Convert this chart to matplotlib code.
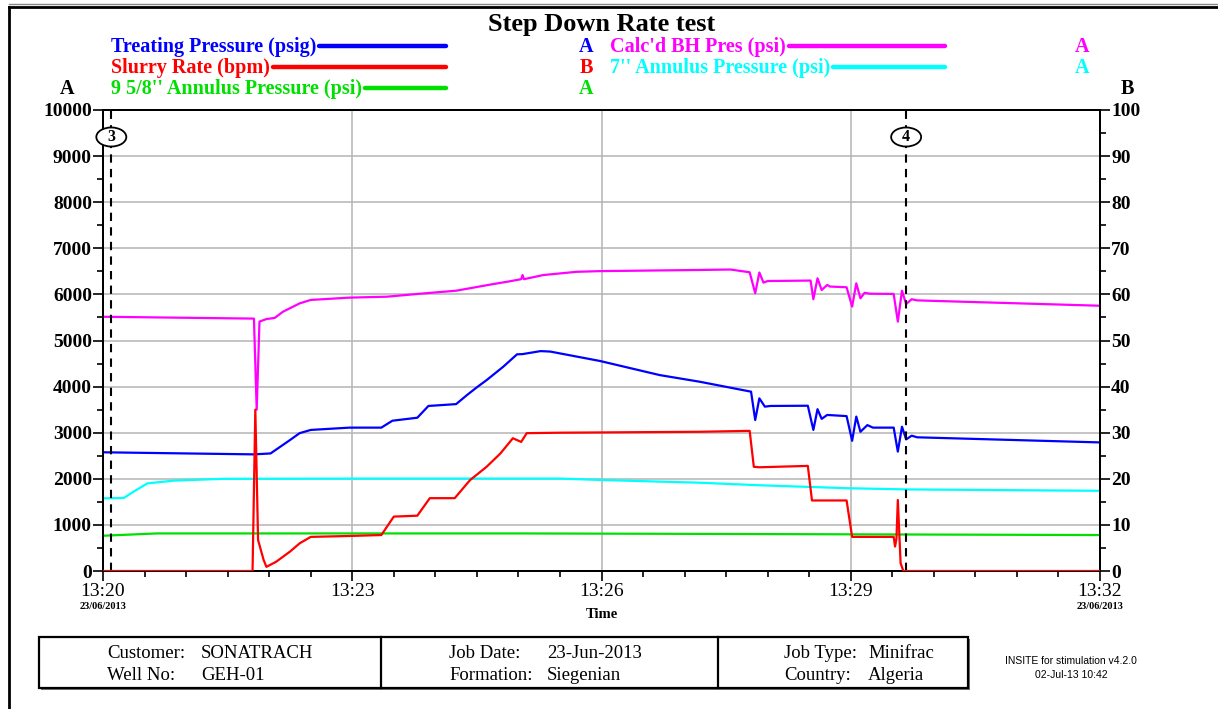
import matplotlib
matplotlib.use("Agg")
import matplotlib.pyplot as plt
import matplotlib.dates as mdates
import matplotlib.ticker as mticker
from matplotlib.lines import Line2D
from matplotlib.patches import Rectangle, Ellipse
import pandas as pd

JOB_DAY = "2013-06-23 "

# treating pressure (psig), axis A
tp_time = ["13:20:00", "13:21:49", "13:22:01", "13:22:15", "13:22:22", "13:22:30", "13:22:58",
           "13:23:21", "13:23:29", "13:23:47", "13:23:55", "13:24:15", "13:24:23", "13:24:30",
           "13:24:37", "13:24:49", "13:24:59", "13:25:03", "13:25:16", "13:25:23", "13:25:59",
           "13:26:42", "13:27:11", "13:27:48", "13:27:51", "13:27:54", "13:27:58", "13:28:02",
           "13:28:29", "13:28:33", "13:28:36", "13:28:39", "13:28:43", "13:28:57", "13:29:01",
           "13:29:04", "13:29:07", "13:29:12", "13:29:16", "13:29:31", "13:29:34", "13:29:37",
           "13:29:40", "13:29:44", "13:29:48", "13:31:59"]
tp_val = [2575, 2530, 2550, 2840, 2990, 3060, 3110,
          3110, 3260, 3325, 3580, 3620, 3820, 3985,
          4140, 4430, 4700, 4705, 4770, 4760, 4555,
          4250, 4105, 3890, 3275, 3745, 3565, 3580,
          3585, 3060, 3510, 3300, 3385, 3360, 2825,
          3350, 3020, 3165, 3110, 3110, 2590, 3130,
          2855, 2935, 2900, 2790]

# calculated bottomhole pressure (psi), axis A
bh_time = ["13:20:00", "13:21:49", "13:21:51", "13:21:53", "13:21:58", "13:22:04", "13:22:10",
           "13:22:22", "13:22:30", "13:22:58", "13:23:25", "13:23:51", "13:24:15", "13:24:42",
           "13:24:52", "13:25:02", "13:25:03", "13:25:04", "13:25:18", "13:25:42", "13:25:59",
           "13:27:11", "13:27:33", "13:27:47", "13:27:51", "13:27:54", "13:27:57", "13:28:00",
           "13:28:31", "13:28:33", "13:28:36", "13:28:39", "13:28:43", "13:28:45", "13:28:57",
           "13:29:01", "13:29:04", "13:29:07", "13:29:10", "13:29:14", "13:29:31", "13:29:34",
           "13:29:37", "13:29:40", "13:29:44", "13:29:48", "13:31:59"]
bh_val = [5515, 5475, 3500, 5410, 5465, 5490, 5625,
          5805, 5880, 5930, 5950, 6020, 6080, 6225,
          6275, 6330, 6420, 6330, 6420, 6490, 6505,
          6530, 6540, 6480, 6025, 6475, 6255, 6290,
          6300, 5895, 6350, 6095, 6205, 6170, 6155,
          5735, 6240, 5915, 6035, 6015, 6010, 5410,
          6080, 5790, 5895, 5870, 5755]

# slurry rate (bpm), axis B
sr_time = ["13:20:00", "13:21:48", "13:21:50", "13:21:52", "13:21:56", "13:21:58", "13:22:05",
           "13:22:15", "13:22:22", "13:22:30", "13:22:58", "13:23:21", "13:23:30", "13:23:47",
           "13:23:56", "13:24:14", "13:24:25", "13:24:37", "13:24:47", "13:24:56", "13:25:02",
           "13:25:06", "13:25:30", "13:27:11", "13:27:47", "13:27:50", "13:27:54", "13:28:29",
           "13:28:32", "13:28:57", "13:29:01", "13:29:31", "13:29:32", "13:29:33", "13:29:34",
           "13:29:36", "13:29:38", "13:32:00"]
sr_val = [0, 0, 35, 6.7, 2.4, 0.9, 2.0,
          4.2, 6.0, 7.4, 7.6, 7.8, 11.8, 12.0,
          15.8, 15.8, 19.7, 22.6, 25.5, 28.8, 28.0,
          29.9, 30.0, 30.2, 30.4, 22.6, 22.5, 22.8,
          15.3, 15.3, 7.4, 7.4, 5.3, 7.0, 15.4,
          1.7, 0, 0]

# 7" annulus pressure (psi), axis A
an7_time = ["13:20:00", "13:20:15", "13:20:22", "13:20:32", "13:20:51", "13:21:27", "13:23:03",
            "13:25:30", "13:25:59", "13:27:11", "13:27:54", "13:28:59", "13:29:40", "13:31:59"]
an7_val = [1575, 1585, 1720, 1900, 1960, 2000, 2005,
           2005, 1975, 1915, 1860, 1795, 1770, 1740]

# 9 5/8" annulus pressure (psi), axis A
an95_time = ["13:20:00", "13:20:39", "13:25:00", "13:27:11", "13:31:59"]
an95_val = [765, 815, 815, 805, 780]

# event markers
event_time = ["13:20:06", "13:29:40"]
event_label = ["3", "4"]

C_TP, C_BH, C_SR, C_A7, C_A95 = "#0000ff", "#ff00ff", "#ff0000", "#00ffff", "#00e000"
SERIF = "Liberation Serif"


def ts(times):
    return pd.to_datetime([JOB_DAY + t for t in times])


fig = plt.figure(figsize=(12.18, 7.09), dpi=100)
W, H = 1218.0, 709.0
renderer = fig.canvas.get_renderer()


def fx(px):
    return px / W


def fy(py):
    return 1 - py / H


# page frame
fig.add_artist(Line2D([fx(9), fx(9)], [0, fy(7)], color="black", lw=2))
fig.add_artist(Line2D([fx(9), 1], [fy(7), fy(7)], color="black", lw=2))
fig.add_artist(Line2D([fx(9), 1], [fy(4), fy(4)], color="#888888", lw=1))

ax = fig.add_axes([fx(103), fy(571), fx(1100) - fx(103), fy(110) - fy(571)])
ax2 = ax.twinx()

ax.plot(ts(an95_time), an95_val, color=C_A95, lw=1.6, zorder=3)
ax.plot(ts(an7_time), an7_val, color=C_A7, lw=1.6, zorder=3)
ax.plot(ts(tp_time), tp_val, color=C_TP, lw=1.6, zorder=4)
ax.plot(ts(bh_time), bh_val, color=C_BH, lw=1.6, zorder=4)
ax2.plot(ts(sr_time), sr_val, color=C_SR, lw=1.6, zorder=5)

t0, t1 = pd.Timestamp(JOB_DAY + "13:20:00"), pd.Timestamp(JOB_DAY + "13:32:00")
ax.set_xlim(t0, t1)
ax.set_ylim(0, 10000)
ax2.set_ylim(0, 100)

ax.xaxis.set_major_locator(mdates.MinuteLocator(byminute=[20, 23, 26, 29, 32]))
ax.xaxis.set_minor_locator(mdates.SecondLocator(bysecond=[0, 30]))
ax.xaxis.set_major_formatter(mdates.DateFormatter("%H:%M"))
ax.yaxis.set_major_locator(mticker.MultipleLocator(1000))
ax.yaxis.set_minor_locator(mticker.MultipleLocator(500))
ax2.yaxis.set_major_locator(mticker.MultipleLocator(10))
ax2.yaxis.set_minor_locator(mticker.MultipleLocator(5))

ax.grid(True, which="major", color="#b4b4b4", lw=1.1, zorder=0)
ax.tick_params(axis="both", which="major", direction="out", length=7, width=1.2)
ax.tick_params(axis="both", which="minor", direction="out", length=4, width=1.2)
ax2.tick_params(axis="y", which="major", direction="out", length=7, width=1.2)
ax2.tick_params(axis="y", which="minor", direction="out", length=4, width=1.2)
for a in (ax, ax2):
    for sp in a.spines.values():
        sp.set_linewidth(1.4)

for lbl in ax.get_yticklabels() + ax2.get_yticklabels():
    lbl.set_fontfamily(SERIF)
    lbl.set_fontweight("bold")
    lbl.set_fontsize(14)
for lbl in ax.get_xticklabels():
    lbl.set_fontfamily(SERIF)
    lbl.set_fontsize(14)
ax.tick_params(axis="y", pad=1)
ax2.tick_params(axis="y", pad=1)
ax.tick_params(axis="x", pad=2)

ax.text(0.5, -0.094, "Time", transform=ax.transAxes, ha="center", va="center",
        family=SERIF, fontweight="bold", fontsize=10.5)
for x_ax in (0.0, 1.0):
    ax.text(x_ax, -0.076, "23/06/2013", transform=ax.transAxes, ha="center", va="center",
            family=SERIF, fontweight="bold", fontsize=7.5)

# event markers: dashed verticals with an oval tag near the top
for t, lab in zip(event_time, event_label):
    tt = pd.Timestamp(JOB_DAY + t)
    ax.axvline(tt, color="black", lw=1.5, ls=(0, (4, 3)), zorder=6)
    xpix = ax.transData.transform((mdates.date2num(tt), 0))[0]
    fig.add_artist(Ellipse((xpix / W, fy(137)), 30 / W, 19 / H, fc="white", ec="black",
                           lw=1.3, zorder=7))
    fig.text(xpix / W, fy(137), lab, ha="center", va="center", family=SERIF,
             fontweight="bold", fontsize=11.5, zorder=8)

# title and legend block
fig.text(fx(602), fy(24), "Step Down Rate test", ha="center", va="center",
         family=SERIF, fontweight="bold", fontsize=19)

LEG_FS = 14.5


def legend_entry(x, y, label, color, line_end, axis_x, axis_name):
    txt = fig.text(fx(x), fy(y), label, ha="left", va="center", color=color, family=SERIF,
                   fontweight="bold", fontsize=LEG_FS)
    x_end = txt.get_window_extent(renderer).x1 + 3
    fig.add_artist(Line2D([x_end / W, fx(line_end)], [fy(y - 1), fy(y - 1)], color=color,
                          lw=3.2, solid_capstyle="round"))
    fig.text(fx(axis_x), fy(y), axis_name, ha="center", va="center", color=color,
             family=SERIF, fontweight="bold", fontsize=LEG_FS)


legend_entry(111, 47, "Treating Pressure (psig)", C_TP, 446, 586, "A")
legend_entry(111, 68, "Slurry Rate (bpm)", C_SR, 446, 586, "B")
legend_entry(111, 89, "9 5/8'' Annulus Pressure (psi)", C_A95, 446, 586, "A")
legend_entry(610, 47, "Calc'd BH Pres (psi)", C_BH, 945, 1082, "A")
legend_entry(610, 68, "7'' Annulus Pressure (psi)", C_A7, 945, 1082, "A")

fig.text(fx(67), fy(89), "A", ha="center", va="center", family=SERIF, fontweight="bold", fontsize=LEG_FS)
fig.text(fx(1127), fy(89), "B", ha="center", va="center", family=SERIF, fontweight="bold", fontsize=LEG_FS)

# job info box
box_x0, box_x1, box_y0, box_y1 = 39, 968, 637, 688
fig.add_artist(Rectangle((fx(box_x0 + 2), fy(box_y1 + 2)), fx(box_x1) - fx(box_x0),
                         fy(box_y0 + 2) - fy(box_y1 + 2), fc="#777777", ec="none"))
fig.add_artist(Rectangle((fx(box_x0), fy(box_y1)), fx(box_x1) - fx(box_x0),
                         fy(box_y0) - fy(box_y1), fc="white", ec="black", lw=1.6))
for xd in (381, 718):
    fig.add_artist(Line2D([fx(xd), fx(xd)], [fy(box_y1), fy(box_y0)], color="black", lw=1.6))

info_cells = [
    (107, 201, [("Customer:", "SONATRACH"), ("Well No:", "GEH-01")]),
    (449, 547, [("Job Date:", "23-Jun-2013"), ("Formation:", "Siegenian")]),
    (784, 868, [("Job Type:", "Minifrac"), ("Country:", "Algeria")]),
]
for lx, vx, pairs in info_cells:
    for (k, v), yy in zip(pairs, (653, 676)):
        fig.text(fx(lx), fy(yy), k, ha="left", va="center", family=SERIF, fontsize=13.5)
        fig.text(fx(vx), fy(yy), v, ha="left", va="center", family=SERIF, fontsize=13.5)

fig.text(fx(1071), fy(661), "INSITE for stimulation v4.2.0", ha="center", va="center",
         family="Liberation Sans", fontsize=7.5)
fig.text(fx(1071), fy(675), "02-Jul-13 10:42", ha="center", va="center",
         family="Liberation Sans", fontsize=7.5)

fig.savefig("out.png", dpi=100)
